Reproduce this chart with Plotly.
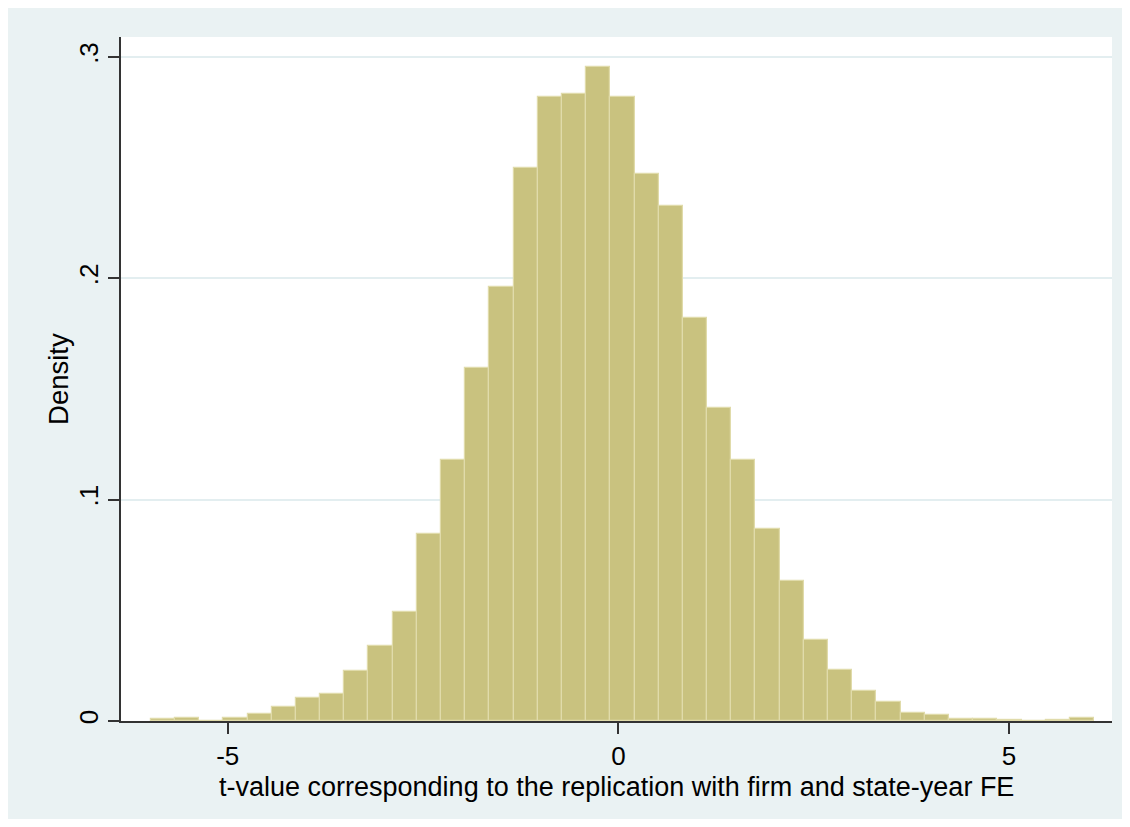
import plotly.graph_objects as go

# Histogram data (39 equal-width bins, density scale)
bin_start = -5.985
bin_width = 0.3096
density = [
    0.0007, 0.0015, 0.0, 0.0013, 0.0030, 0.0063, 0.0104, 0.0121, 0.0225, 0.0339,
    0.0493, 0.0844, 0.1177, 0.1594, 0.1959, 0.2497, 0.2821, 0.2832, 0.2954, 0.2821,
    0.2471, 0.2327, 0.1822, 0.1412, 0.1177, 0.0868, 0.0632, 0.0365, 0.0232, 0.0136,
    0.0086, 0.0038, 0.0027, 0.0011, 0.0011, 0.0005, 0.0, 0.0005, 0.0013,
]
bin_centers = [bin_start + (i + 0.5) * bin_width for i in range(len(density))]

x_tickvals = [-5, 0, 5]
x_ticktext = ["-5", "0", "5"]
y_tickvals = [0, 0.1, 0.2, 0.3]
y_ticktext = ["0", ".1", ".2", ".3"]

x_title = "t-value corresponding to the replication with firm and state-year FE"
y_title = "Density"

FONT = "Liberation Sans, Arial, Helvetica, sans-serif"
PANEL = "#eaf2f3"

fig = go.Figure()
fig.add_trace(go.Bar(
    x=bin_centers,
    y=density,
    width=bin_width,
    marker=dict(color="rgb(201,194,127)", line=dict(color="rgb(224,219,170)", width=1.2)),
    hoverinfo="x+y",
))

fig.update_layout(
    width=1114,
    height=811,
    margin=dict(l=113, r=10, t=29, b=98),
    paper_bgcolor=PANEL,
    plot_bgcolor="white",
    showlegend=False,
    bargap=0,
    font=dict(family=FONT, size=26, color="black"),
    xaxis=dict(
        range=[-6.366, 6.318],
        tickvals=x_tickvals,
        ticktext=x_ticktext,
        ticks="outside",
        ticklen=11,
        tickwidth=1.5,
        tickcolor="#333333",
        showgrid=False,
        zeroline=False,
        showline=True,
        linecolor="#333333",
        linewidth=1.5,
        tickfont=dict(size=26),
    ),
    yaxis=dict(
        range=[0, 0.309],
        tickvals=y_tickvals,
        ticktext=y_ticktext,
        ticks="outside",
        ticklen=11,
        tickwidth=1.5,
        tickcolor="#333333",
        tickangle=-90,
        showgrid=True,
        gridcolor="#e3eef0",
        gridwidth=1.5,
        zeroline=False,
        showline=True,
        linecolor="#333333",
        linewidth=1.5,
        tickfont=dict(size=26),
    ),
    annotations=[
        dict(text=x_title, xref="paper", yref="paper", x=0.5, y=-0.096,
             xanchor="center", yanchor="middle", showarrow=False,
             font=dict(size=27, family=FONT)),
        dict(text=y_title, xref="paper", yref="paper", x=-0.0636, y=0.5,
             xanchor="center", yanchor="middle", textangle=-90, showarrow=False,
             font=dict(size=27.5, family=FONT)),
    ],
)

fig.write_html("out.html")
